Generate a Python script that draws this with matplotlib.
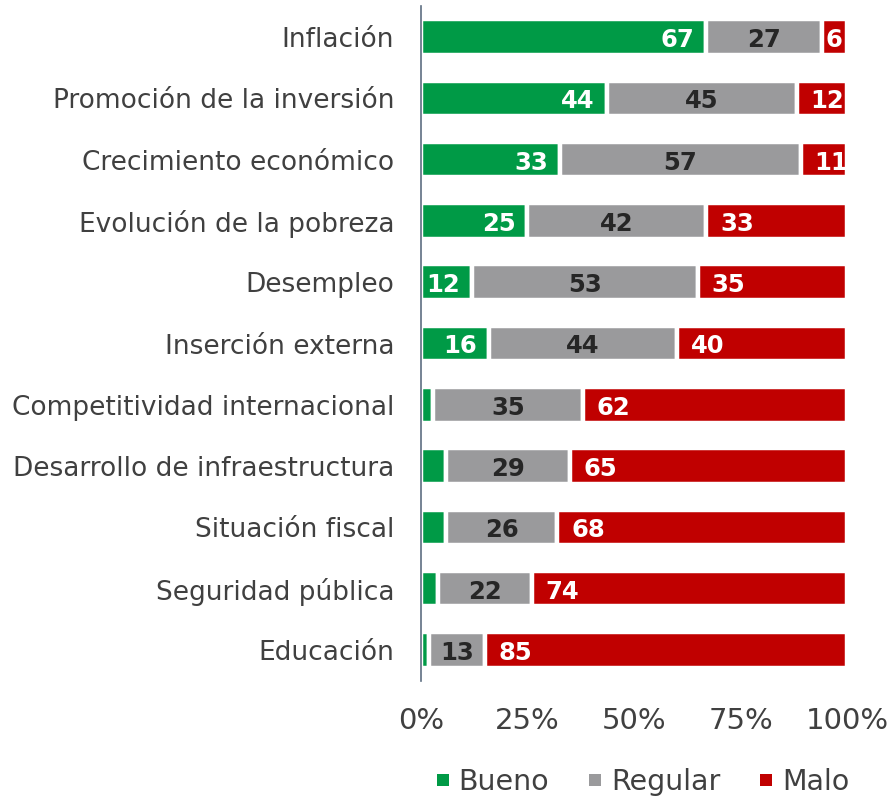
import numpy as np
import matplotlib
matplotlib.use("Agg")
import matplotlib.pyplot as plt
from matplotlib.patches import Patch

plt.rcParams["font.family"] = ["DejaVu Sans"]

# Survey results: share of respondents rating each area
categories = [
    "Inflación",
    "Promoción de la inversión",
    "Crecimiento económico",
    "Evolución de la pobreza",
    "Desempleo",
    "Inserción externa",
    "Competitividad internacional",
    "Desarrollo de infraestructura",
    "Situación fiscal",
    "Seguridad pública",
    "Educación",
]
bueno = [67, 44, 33, 25, 12, 16, 3, 6, 6, 4, 2]
regular = [27, 45, 57, 42, 53, 44, 35, 29, 26, 22, 13]
malo = [6, 12, 11, 33, 35, 40, 62, 65, 68, 74, 85]
series_names = ["Bueno", "Regular", "Malo"]
xtick_values = [0, 25, 50, 75, 100]
xtick_labels = ["0%", "25%", "50%", "75%", "100%"]

colors = ["#009A46", "#9A9A9C", "#C00000"]
label_colors = ["white", "#262626", "white"]
text_color = "#404040"

W, H = 894, 799
fig = plt.figure(figsize=(W / 100, H / 100), dpi=100)
x0, x1, ytop, ybot = 420.7, 847.2, 6.4, 680.6
ax = fig.add_axes([x0 / W, (H - ybot) / H, (x1 - x0) / W, (ybot - ytop) / H])

data = np.array([bueno, regular, malo], dtype=float)
shares = data / data.sum(axis=0) * 100  # 100% stacked
y = np.arange(len(categories))

lbl_kw = dict(textcoords="offset points", va="center_baseline", fontsize=17.5,
              fontweight="bold", clip_on=True)
dy = -0.3

left = np.zeros(len(categories))
for i, name in enumerate(series_names):
    ax.barh(y, shares[i], left=left, height=0.58, color=colors[i],
            edgecolor="white", linewidth=3.2, label=name)
    for j in range(len(categories)):
        val = int(data[i, j])
        start, width = left[j], shares[i, j]
        if i == 0:
            if val < 10:
                continue
            ax.annotate(str(val), xy=(start + width, y[j]), xytext=(-8.5, dy),
                        ha="right", color=label_colors[i], **lbl_kw)
        elif i == 1:
            ax.annotate(str(val), xy=(start + width / 2, y[j]), xytext=(0, dy),
                        ha="center", color=label_colors[i], **lbl_kw)
        elif width < 8:
            ax.annotate(str(val), xy=(start + width / 2, y[j]), xytext=(0, dy),
                        ha="center", color=label_colors[i], **lbl_kw)
        else:
            ax.annotate(str(val), xy=(start, y[j]), xytext=(10, dy),
                        ha="left", color=label_colors[i], **lbl_kw)
    left = left + shares[i]

ax.set_xlim(0, 100)
ax.set_ylim(len(categories) - 0.5, -0.5)
ax.set_yticks(y)
ax.set_yticklabels(categories, fontsize=19, color=text_color)
ax.set_xticks(xtick_values)
ax.set_xticklabels(xtick_labels, fontsize=21, color=text_color)
ax.tick_params(axis="y", length=0, pad=19)
ax.tick_params(axis="x", length=0, pad=19)

for side in ["top", "right", "bottom"]:
    ax.spines[side].set_visible(False)
ax.spines["left"].set_color("#5E6E82")
ax.spines["left"].set_linewidth(1.2)

handles = [Patch(facecolor=c, edgecolor="none") for c in colors]
fig.legend(handles, series_names, loc="center", bbox_to_anchor=(643 / W, 17 / H),
           ncol=3, frameon=False, fontsize=20.5, labelcolor=text_color,
           handlelength=0.42, handleheight=0.27, handletextpad=0.35,
           columnspacing=1.4, borderpad=0, borderaxespad=0)

fig.savefig("out.png", dpi=100, facecolor="white")
